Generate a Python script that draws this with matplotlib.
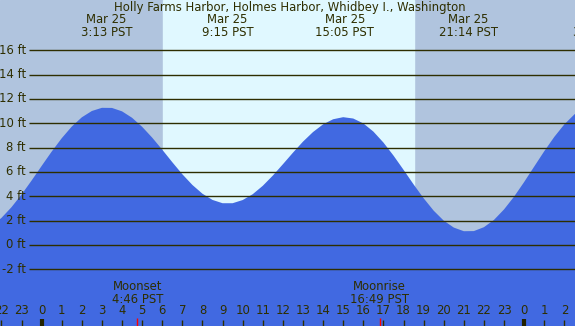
import numpy as np
import matplotlib
matplotlib.use("Agg")
import matplotlib.pyplot as plt

# tide heights (ft), read every half hour from -2.5 h (Mar 24 21:30) to 27 h (Mar 26 03:00)
hours = [h / 2 for h in range(-5, 55)]
heights = [1.55, 2.22, 3.10, 4.14, 5.29, 6.49, 7.67, 8.77, 9.73, 10.49, 11.01, 11.27,
           11.26, 10.98, 10.45, 9.71, 8.82, 7.83, 6.80, 5.81, 4.93, 4.21, 3.70, 3.43,
           3.43, 3.69, 4.17, 4.86, 5.70, 6.63, 7.58, 8.49, 9.28, 9.91, 10.33, 10.50,
           10.39, 9.99, 9.32, 8.42, 7.35, 6.18, 4.98, 3.84, 2.82, 2.00, 1.43, 1.13,
           1.14, 1.46, 2.06, 2.92, 3.97, 5.17, 6.44, 7.70, 8.88, 9.91, 10.73, 11.30]

# high / low tide labels
ext_hours = [3.217, 9.25, 15.083, 21.233, 27.7]
ext_labels = ["Mar 25\n3:13 PST", "Mar 25\n9:15 PST", "Mar 25\n15:05 PST",
              "Mar 25\n21:14 PST", "Mar 26\n3:43 PST"]

sunrise, sunset = 6.03, 18.52
moon_hours = [4.767, 16.817]
moon_labels = ["Moonset\n4:46 PST", "Moonrise\n16:49 PST"]

ft_ticks = list(range(-2, 17, 2))
hour_ticks = list(range(-2, 27))

title = "Holly Farms Harbor, Holmes Harbor, Whidbey I., Washington"

NIGHT = "#b0c4de"
DAY = "#e0f8ff"
WATER = "#4169e1"
INK = "#2e2e00"
FS = 8.4

x0, x1 = -2.07, 26.53
y0, y1 = -6.66, 20.13

fig = plt.figure(figsize=(5.75, 3.26), dpi=100)
ax = fig.add_axes([0, 0, 1, 1])
ax.set_xlim(x0, x1)
ax.set_ylim(y0, y1)
ax.axis("off")

ax.axvspan(x0, x1, color=NIGHT, zorder=0)
ax.axvspan(sunrise, sunset, color=DAY, zorder=0.5)
ax.fill_between(hours, y0, heights, color=WATER, lw=0, zorder=1)

# grid lines from ~29px to right edge
gx = x0 + 29 / 575 * (x1 - x0)
lab_x = x0 + 26 / 575 * (x1 - x0)
for f in ft_ticks:
    ax.plot([gx, x1], [f, f], color=INK, lw=1.0, zorder=2, solid_capstyle="butt")
    ax.text(lab_x, f, f"{f} ft", ha="right", va="center", fontsize=FS, color=INK, zorder=3)

# hour axis along the bottom
px_y = (y1 - y0) / 326
for h in hour_ticks:
    lab = str(h % 24)
    ax.text(h, y0 + 15 * px_y, lab, ha="center", va="center", fontsize=FS, color=INK, zorder=3)
    if h % 24 == 0:
        ax.plot([h, h], [y0, y0 + 7 * px_y], color="#222200", lw=3, zorder=3, solid_capstyle="butt")
    else:
        ax.plot([h, h], [y0, y0 + 6 * px_y], color=INK, lw=1, zorder=3, solid_capstyle="butt")

for mh, ml in zip(moon_hours, moon_labels):
    ax.plot([mh, mh], [y0, y0 + 8.5 * px_y], color="red", lw=1, zorder=3, solid_capstyle="butt")
    ax.text(mh, y0 + 33 * px_y, ml, ha="center", va="center", fontsize=FS, color=INK,
            linespacing=0.95, zorder=3)

for eh, el in zip(ext_hours, ext_labels):
    ax.text(eh, y1 - 26 * px_y, el, ha="center", va="center", fontsize=FS, color=INK,
            linespacing=0.95, zorder=3)

ax.text((x0 + x1) / 2 + 0.1, y1 - 7 * px_y, title, ha="center", va="center",
        fontsize=FS, color=INK, zorder=3)

fig.savefig("out.png", dpi=100)
